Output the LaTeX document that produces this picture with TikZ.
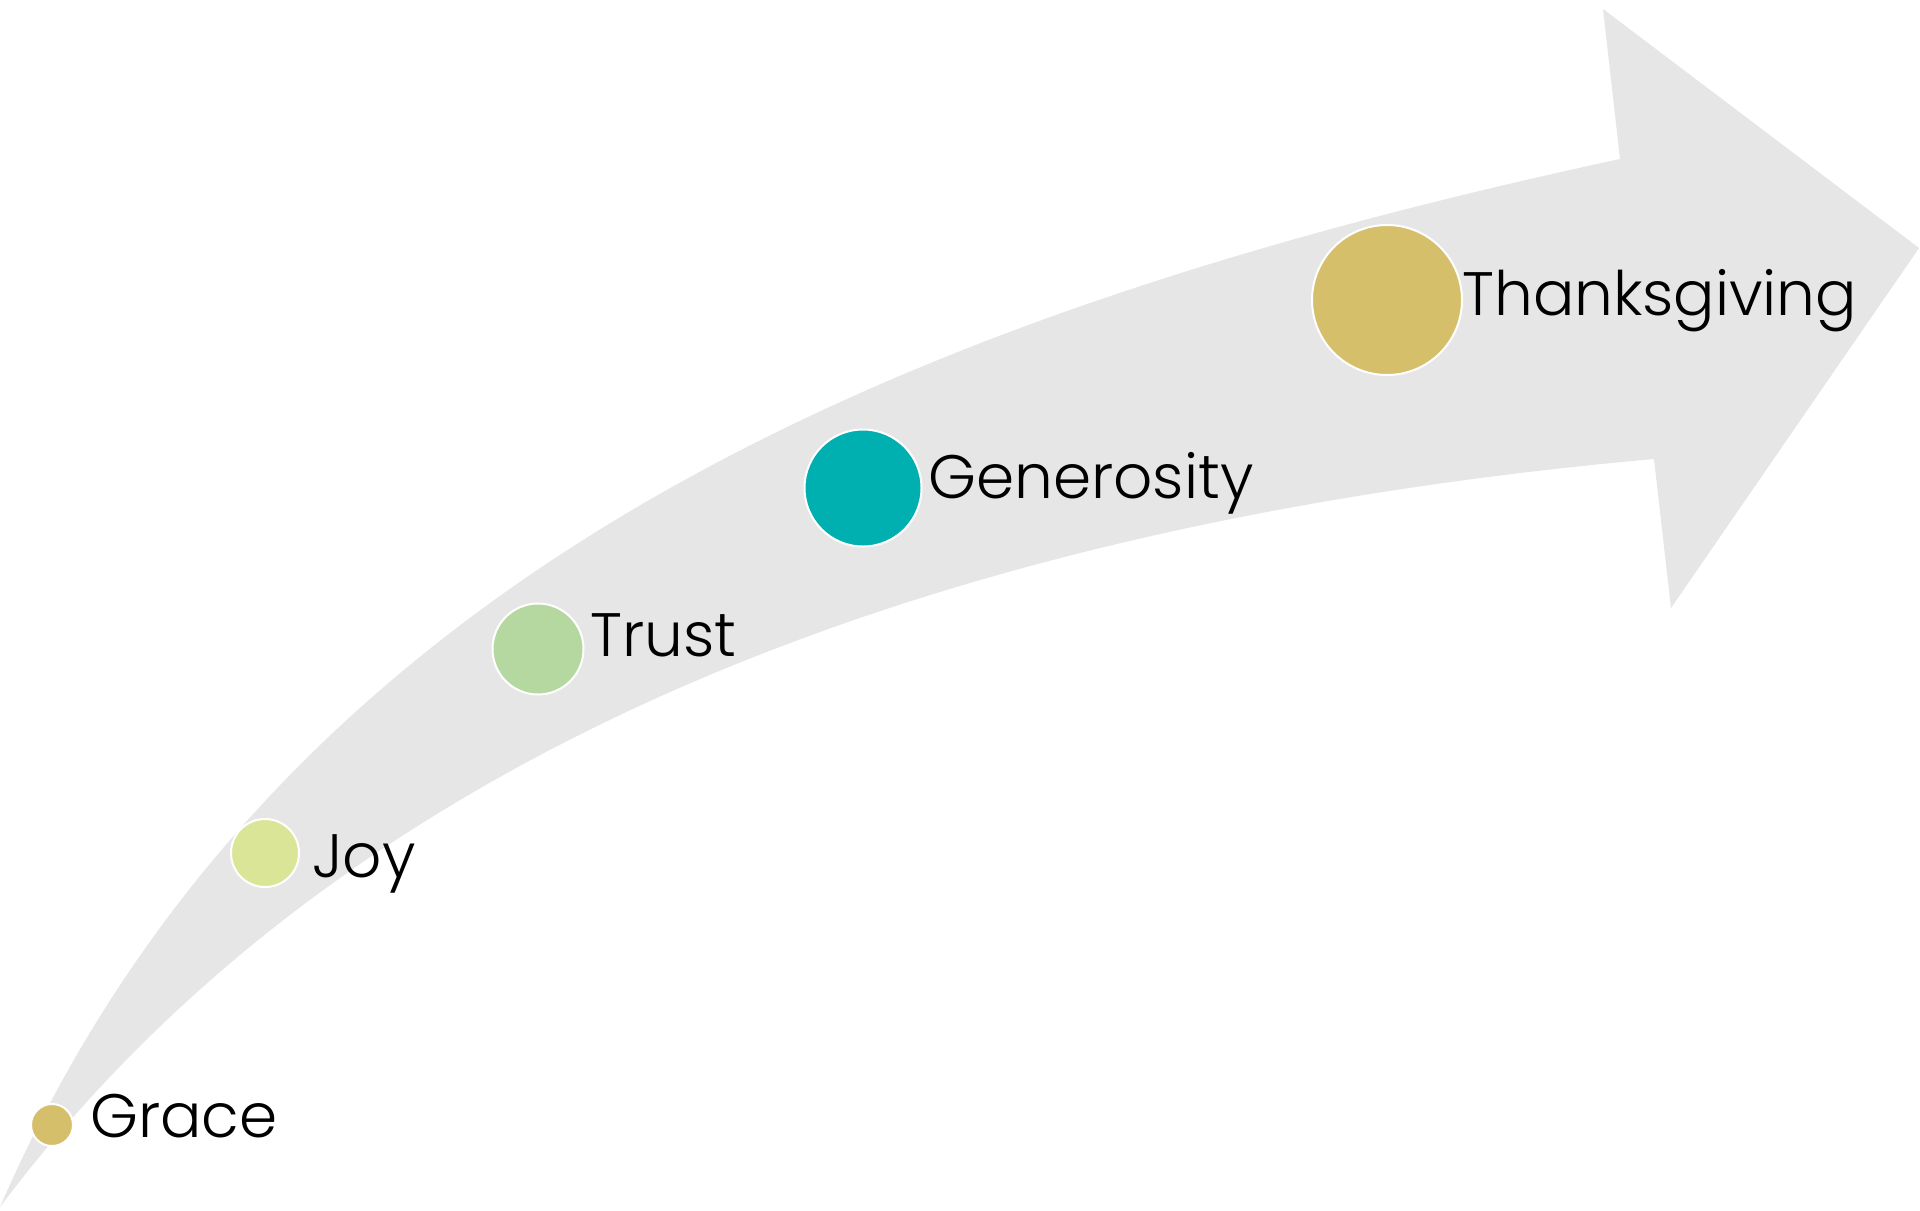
\documentclass[tikz,border=0pt]{standalone}
\usepackage{fontspec}
\setmainfont{Poppins}[UprightFont={* Light}]
\definecolor{arrowgrey}{HTML}{E6E6E6}
\definecolor{gold}{HTML}{D6BF6B}
\definecolor{lime}{HTML}{DAE597}
\definecolor{sage}{HTML}{B4D8A0}
\definecolor{tealc}{HTML}{00AFAF}
\tikzset{
  dot/.style={circle, draw=white, line width=1.5pt, inner sep=0pt},
  lbl/.style={anchor=base west, inner sep=0pt, font=\fontsize{46}{54}\selectfont, text=black},
}
\begin{document}
\begin{tikzpicture}[x=0.75pt, y=-0.75pt]
\useasboundingbox (0,0) rectangle (1920,1210);
\fill[white] (0,0) rectangle (1920,1210);
% curved arrow band
\fill[arrowgrey]
  (0,1207) .. controls (280,563) and (920,310) .. (1620,159)
  -- (1603,9) -- (1919,248) -- (1671,608) -- (1654,459)
  .. controls (950,522) and (350,740) .. (0,1207)
  -- cycle;
% milestones
\node[dot, fill=gold,  minimum size=42pt*0.75] (grace)  at (52,1125) {};
\node[dot, fill=lime,  minimum size=68pt*0.75] (joy)    at (265,853) {};
\node[dot, fill=sage,  minimum size=91pt*0.75] (trust)  at (538,649) {};
\node[dot, fill=tealc, minimum size=117pt*0.75] (gen)   at (863,488) {};
\node[dot, fill=gold,  minimum size=150pt*0.75] (thanks) at (1387,300) {};
% labels
\node[lbl] (gracet)  at (90,1137) {Grace};
\node[lbl] (joyt)    at (312,877) {Joy};
\node[lbl] (trustt)  at (590,656) {Trust};
\node[lbl] (gent)    at (928,498) {Generosity};
\node[lbl] (thankst) at (1462,315) {Thanksgiving};
\end{tikzpicture}
\end{document}
